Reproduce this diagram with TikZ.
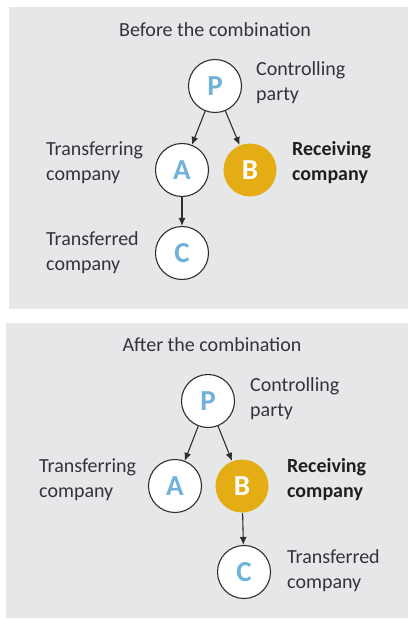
\documentclass[tikz,border=0pt]{standalone}
\usepackage{fontspec}
\setmainfont{Carlito}
\usetikzlibrary{arrows.meta}
\definecolor{panelgray}{HTML}{E6E7E8}
\definecolor{lettblue}{HTML}{72B2D8}
\definecolor{gold}{HTML}{E4AD13}
\definecolor{inktext}{HTML}{33333A}
\definecolor{ringline}{HTML}{2E2E2E}
\tikzset{
  panel/.style={fill=panelgray, draw=none},
  entity/.style={circle, minimum size=53pt, inner sep=0pt, fill=white,
    draw=ringline, line width=1.1pt, text=lettblue,
    font=\fontsize{29}{29}\selectfont\bfseries},
  receiver/.style={entity, draw=none, fill=gold, text=white},
  lbl/.style={anchor=west, align=left, inner sep=0pt, text=inktext,
    font=\fontsize{20}{25}\selectfont},
  boldlbl/.style={lbl, text=black!88, font=\fontsize{20}{25}\selectfont\bfseries},
  heading/.style={inner sep=0pt, text=inktext, font=\fontsize{20}{22}\selectfont},
  own/.style={-{Latex[length=8pt,width=7pt]}, line width=1.1pt, draw=ringline}
}
\begin{document}
\begin{tikzpicture}[x=1pt,y=-1pt]
\useasboundingbox (0,0) rectangle (409,620);

% ---- before the combination ----
\fill[panel] (9,7) rectangle (408,309);
\node[heading] (t1) at (215,30) {Before the combination};
\node[entity]   (p1) at (215,86)  {P};
\node[entity]   (a1) at (182,170) {A};
\node[receiver] (b1) at (250,170) {B};
\node[entity]   (c1) at (182,253) {C};
\draw[own] (p1) -- (a1);
\draw[own] (p1) -- (b1);
\draw[own] (a1) -- (c1);
\node[lbl]     (lp1) at (256,82.5)  {Controlling\\party};
\node[lbl]     (la1) at (46,162.5)  {Transferring\\company};
\node[boldlbl] (lb1) at (292,162.5) {Receiving\\company};
\node[lbl]     (lc1) at (46,252.5)  {Transferred\\company};

% ---- after the combination ----
\fill[panel] (6,323) rectangle (408,618);
\node[heading] (t2) at (212,345) {After the combination};
\node[entity]   (p2) at (208,401) {P};
\node[entity]   (a2) at (175,486) {A};
\node[receiver] (b2) at (242,486) {B};
\node[entity]   (c2) at (244,572) {C};
\draw[own] (p2) -- (a2);
\draw[own] (p2) -- (b2);
\draw[own] (b2) -- (c2);
\node[lbl]     (lp2) at (250,398.5) {Controlling\\party};
\node[lbl]     (la2) at (39,479.5)  {Transferring\\company};
\node[boldlbl] (lb2) at (287,479.5) {Receiving\\company};
\node[lbl]     (lc2) at (287,570.5) {Transferred\\company};
\end{tikzpicture}
\end{document}
